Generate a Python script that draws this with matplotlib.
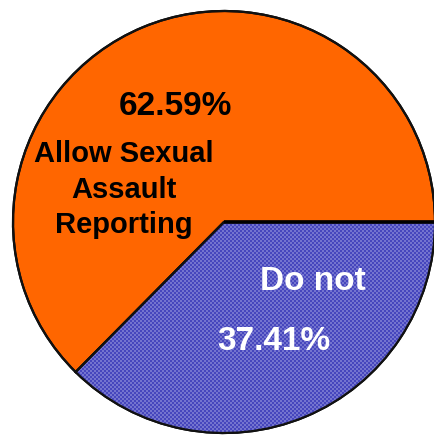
import numpy as np
import matplotlib
matplotlib.use("Agg")
import matplotlib.pyplot as plt
from matplotlib.colors import ListedColormap

# ---------- Data ----------

labels = ["Do not", "Allow Sexual\nAssault\nReporting"]
shares = [37.41, 62.59]
colors = ["#5a5ac4", "#ff6600"]

# ---------- Figure ----------

W, H = 434, 436
fig = plt.figure(figsize=(W / 100, H / 100), dpi=100)
ax = fig.add_axes([0, 0, 1, 1])

cx, cy, r = 224, H - 222, 211

wedges, _ = ax.pie(
    shares,
    colors=colors,
    startangle=0,
    counterclock=False,
    center=(cx, cy),
    radius=r,
    frame=True,
    wedgeprops=dict(edgecolor="black", linewidth=1.6),
)

# dithered fill for the blue slice
yy, xx = np.indices((H, W))
checker = ((xx // 2 + yy // 2) % 2).astype(float)
cmap = ListedColormap(["#4646bd", "#7474cf"])
im = ax.imshow(checker, cmap=cmap, extent=(0, W, 0, H), origin="lower",
               interpolation="nearest", zorder=2)
im.set_clip_path(wedges[0])

# outline on top of the pattern
ax.pie(shares, colors=["none", "none"], startangle=0, counterclock=False,
       center=(cx, cy), radius=r, frame=True,
       wedgeprops=dict(edgecolor="#111111", linewidth=1.6, fill=False, zorder=5))
# the split line between the slices is drawn heavier
ax.plot([cx, cx + r], [cy, cy], color="black", lw=2.6, zorder=5,
        solid_capstyle="butt")

ax.set_xlim(0, W)
ax.set_ylim(0, H)
ax.set_aspect("equal")
ax.axis("off")

# ---------- Labels ----------

font = dict(family="Liberation Sans", weight="bold", ha="center", va="baseline", zorder=6)

ax.text(175, H - 115, f"{shares[1]:.2f}%", fontsize=24, color="black", **font)
for line, base in zip(labels[1].split("\n"), [162, 198, 233]):
    ax.text(124, H - base, line, fontsize=21, color="black", **font)

ax.text(313, H - 290, labels[0], fontsize=24, color="white", **font)
ax.text(274, H - 350, f"{shares[0]:.2f}%", fontsize=24, color="white", **font)

fig.savefig("out.png", dpi=100)
